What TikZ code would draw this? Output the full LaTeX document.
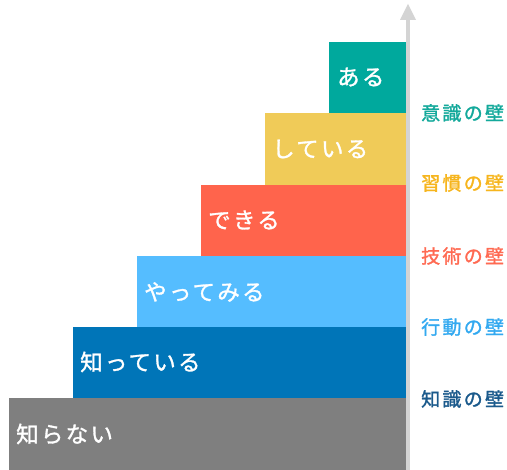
\documentclass[tikz,border=0pt]{standalone}
\usepackage{fontspec}
\newfontfamily\jpblock[LetterSpace=10,FakeBold=1.3]{Noto Sans CJK JP}
\newfontfamily\jplabel[LetterSpace=12,FakeBold=1.6]{Noto Sans CJK JP}
\definecolor{cgray}{HTML}{7F7F7F}
\definecolor{cdblue}{HTML}{0075B8}
\definecolor{clblue}{HTML}{55BDFF}
\definecolor{cred}{HTML}{FF644C}
\definecolor{cyellow}{HTML}{F0CB58}
\definecolor{cteal}{HTML}{00A99D}
\definecolor{carrow}{HTML}{D4D4D4}
\definecolor{lteal}{HTML}{14A99B}
\definecolor{lyellow}{HTML}{F6B51E}
\definecolor{lred}{HTML}{FF6A52}
\definecolor{lblue}{HTML}{33A9F0}
\definecolor{ldblue}{HTML}{1B5A8C}
\tikzset{
  steptext/.style={anchor=west, text=white, font=\jpblock\fontsize{22.5}{26}\selectfont, inner sep=0pt},
  walllabel/.style={anchor=west, font=\jplabel\fontsize{19}{22}\selectfont, inner sep=0pt},
}
\begin{document}
\begin{tikzpicture}[x=1pt,y=-1pt]
\useasboundingbox (0,0) rectangle (507,470);
% steps
\fill[cgray]   (9,398) rectangle (406,470);
\fill[cdblue]  (73,327) rectangle (406,398);
\fill[clblue]  (137,256) rectangle (406,327);
\fill[cred]    (201,185) rectangle (406,256);
\fill[cyellow] (265,113) rectangle (406,185);
\fill[cteal]   (329,42) rectangle (406,113);
% arrow
\coordinate (abot) at (408,470);
\coordinate (abase) at (408,19);
\coordinate (atip) at (408,4);
\draw[carrow, line width=4pt] (abot) -- (abase);
\fill[carrow] (400,20) -- (416,20) -- (atip) -- cycle;
% step texts
\node[steptext] (t1) at (16,434) {知らない};
\node[steptext] (t2) at (80,362) {知っている};
\node[steptext] (t3) at (144,292) {やってみる};
\node[steptext] (t4) at (208,220) {できる};
\node[steptext] (t5) at (272,149) {している};
\node[steptext] (t6) at (337,77) {ある};
% labels
\node[walllabel, text=lteal]   (l1) at (421,113) {意識の壁};
\node[walllabel, text=lyellow] (l2) at (421,183) {習慣の壁};
\node[walllabel, text=lred]    (l3) at (421,256) {技術の壁};
\node[walllabel, text=lblue]   (l4) at (421,327) {行動の壁};
\node[walllabel, text=ldblue]  (l5) at (421,399) {知識の壁};
\end{tikzpicture}
\end{document}
